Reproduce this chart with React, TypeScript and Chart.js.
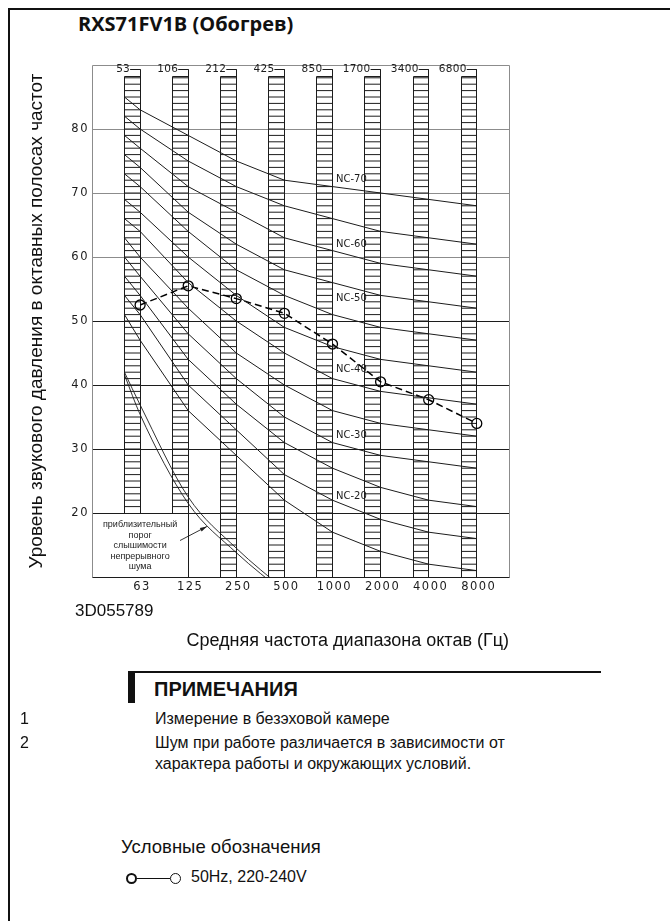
import React, { useEffect, useRef } from 'react';
import { Chart, registerables } from 'chart.js';

Chart.register(...registerables);

// Octave band centre frequencies (bottom axis) and lower band edges (top row)
const bandLabels = ['63', '125', '250', '500', '1000', '2000', '4000', '8000'];
const bandEdgeLabels = ['53', '106', '212', '425', '850', '1700', '3400', '6800'];
const levelTicks = [20, 30, 40, 50, 60, 70, 80];

// NC reference curves, dB: value at the lower edge of the 63 Hz column, then 63 … 8000 Hz
const nc70 = [85, 83, 79, 75, 72, 71, 70, 69, 68];
const nc65 = [82, 80, 75, 71, 68, 66, 64, 63, 62];
const nc60 = [79, 77, 71, 67, 63, 61, 59, 58, 57];
const nc55 = [76, 74, 67, 62, 58, 56, 54, 53, 52];
const nc50 = [73, 71, 64, 58, 54, 51, 49, 48, 47];
const nc45 = [69, 67, 60, 54, 49, 46, 44, 43, 42];
const nc40 = [66, 64, 56, 50, 45, 41, 39, 38, 37];
const nc35 = [63, 60, 52, 45, 40, 36, 34, 33, 32];
const nc30 = [60, 57, 48, 41, 35, 31, 29, 28, 27];
const nc25 = [57, 54, 44, 37, 31, 27, 24, 22, 21];
const nc20 = [54, 51, 40, 33, 26, 22, 19, 17, 16];
const nc15 = [51, 47, 36, 29, 22, 17, 14, 12, 11];
const ncCurves = [nc70, nc65, nc60, nc55, nc50, nc45, nc40, nc35, nc30, nc25, nc20, nc15];

// NC captions written beside the 1000 Hz column
const ncLabelNames = ['NC-70', 'NC-60', 'NC-50', 'NC-40', 'NC-30', 'NC-20'];
const ncLabelLevels = [72.2, 62.0, 53.6, 42.5, 32.2, 22.6];

// Measured octave band levels, heating mode, 50Hz 220-240V
const heatingLevels = [52.5, 55.5, 53.5, 51.2, 46.4, 40.5, 37.7, 34.0];

// Approximate threshold of hearing for continuous noise (double line):
// lower edge of the 63 Hz column, then 63, 125, 250, 500 Hz
const thresholdLower = [41.6, 35.4, 21.5, 13.8, 7.5];
const thresholdUpper = [42.0, 36.9, 22.5, 14.5, 8.0];
const thresholdText = ['приблизительный', 'порог', 'слышимости', 'непрерывного', 'шума'];

// Drawing geometry (octave units on x, dB on y)
const X_MIN = -1;
const X_MAX = 7.67;
const Y_MIN = 10;
const Y_MAX = 90;
const COL_W = 0.325;
const COL_TOP = 88.2;
const EDGE_ROW = 89.35;
const LABEL_BOX_TOP = 20;
const ARROW_TAIL = { x: 0.83, y: 15.7 };
const ARROW_HEAD = { x: 1.39, y: 17.9 };

const CAD_FONT = '"DejaVu Sans", sans-serif';
const TEXT_FONT = '"Liberation Sans", Arial, sans-serif';
const INK = '#1c1c1c';
const GREY = '#8c8c8c';

// x position of the j-th value of a curve that starts at the 63 Hz column edge
const curveX = (j: number) => (j === 0 ? -COL_W : j - 1);

const crisp = (v: number) => Math.round(v - 0.5) + 0.5;

const decorPlugin = {
  id: 'ncDecor',
  beforeDatasetsDraw(chart: any) {
    const { ctx, scales } = chart;
    const x = scales.x;
    const y = scales.y;
    ctx.save();
    ctx.strokeStyle = INK;
    ctx.lineWidth = 1;
    ctx.beginPath();
    bandLabels.forEach((_, i) => {
      const xl = crisp(x.getPixelForValue(i - COL_W));
      const xr = crisp(x.getPixelForValue(i));
      const bottom = i < 2 ? LABEL_BOX_TOP : Y_MIN;
      const yTop = y.getPixelForValue(COL_TOP);
      const yBot = y.getPixelForValue(bottom);
      ctx.moveTo(xl, yTop);
      ctx.lineTo(xl, yBot);
      ctx.moveTo(xr, y.getPixelForValue(EDGE_ROW));
      // the 125 Hz edge also closes the threshold caption box
      ctx.lineTo(xr, y.getPixelForValue(i === 1 ? Y_MIN : bottom));
      ctx.moveTo(xl, yTop);
      ctx.lineTo(xr, yTop);
      for (let d = Math.floor(COL_TOP); d > bottom; d--) {
        const yy = y.getPixelForValue(d);
        ctx.moveTo(xl, yy);
        ctx.lineTo(xr, yy);
      }
    });
    ctx.stroke();
    ctx.restore();
  },
  afterDatasetsDraw(chart: any) {
    const { ctx, chartArea: ca, scales } = chart;
    const x = scales.x;
    const y = scales.y;
    ctx.save();

    // plot frame
    const L = crisp(ca.left);
    const R = crisp(ca.right);
    const T = crisp(ca.top);
    const B = crisp(ca.bottom);
    ctx.lineWidth = 1;
    ctx.strokeStyle = GREY;
    ctx.beginPath();
    ctx.moveTo(L, B);
    ctx.lineTo(L, T);
    ctx.lineTo(R, T);
    ctx.lineTo(R, B);
    ctx.stroke();
    ctx.strokeStyle = INK;
    ctx.beginPath();
    ctx.moveTo(L, B);
    ctx.lineTo(R, B);
    ctx.stroke();

    // band edge labels with their leader to the column
    ctx.fillStyle = INK;
    ctx.font = `10.5px ${CAD_FONT}`;
    (ctx as any).letterSpacing = '0.3px';
    ctx.textAlign = 'right';
    ctx.textBaseline = 'middle';
    const yEdge = y.getPixelForValue(EDGE_ROW);
    bandEdgeLabels.forEach((t, i) => {
      const xr = x.getPixelForValue(i);
      ctx.fillText(t, xr - 10, yEdge);
      ctx.beginPath();
      ctx.moveTo(xr - 10, crisp(yEdge));
      ctx.lineTo(xr, crisp(yEdge));
      ctx.stroke();
    });

    // NC captions
    ctx.font = `10px ${CAD_FONT}`;
    (ctx as any).letterSpacing = '0px';
    ctx.textAlign = 'left';
    ncLabelNames.forEach((t, k) => {
      ctx.fillText(t, x.getPixelForValue(4) + 3.5, y.getPixelForValue(ncLabelLevels[k]));
    });

    // threshold caption
    ctx.font = `9px ${TEXT_FONT}`;
    ctx.textAlign = 'center';
    const cx = x.getPixelForValue(0);
    const y0 = y.getPixelForValue(LABEL_BOX_TOP) + 12;
    thresholdText.forEach((t, k) => {
      ctx.fillText(t, cx, y0 + k * 10.4);
    });

    // arrow pointing at the threshold curve
    const ax0 = x.getPixelForValue(ARROW_TAIL.x);
    const ay0 = y.getPixelForValue(ARROW_TAIL.y);
    const ax1 = x.getPixelForValue(ARROW_HEAD.x);
    const ay1 = y.getPixelForValue(ARROW_HEAD.y);
    const ang = Math.atan2(ay1 - ay0, ax1 - ax0);
    ctx.lineWidth = 0.9;
    ctx.beginPath();
    ctx.moveTo(ax0, ay0);
    ctx.lineTo(ax1, ay1);
    ctx.stroke();
    ctx.beginPath();
    ctx.moveTo(ax1, ay1);
    ctx.lineTo(ax1 - 7 * Math.cos(ang) + 2 * Math.sin(ang), ay1 - 7 * Math.sin(ang) - 2 * Math.cos(ang));
    ctx.lineTo(ax1 - 7 * Math.cos(ang) - 2 * Math.sin(ang), ay1 - 7 * Math.sin(ang) + 2 * Math.cos(ang));
    ctx.closePath();
    ctx.fill();

    ctx.restore();
    // tick labels are drawn after this hook (ticks.z = 1): spaced drafting digits
    (ctx as any).letterSpacing = '1.5px';
  },
  afterDraw(chart: any) {
    (chart.ctx as any).letterSpacing = '0px';
  },
};

function NoiseChart() {
  const ref = useRef<HTMLCanvasElement | null>(null);

  useEffect(() => {
    if (!ref.current) return;
    const ncSets = ncCurves.map((vals, k) => ({
      label: `NC-${70 - k * 5}`,
      data: vals.map((v, j) => ({ x: curveX(j), y: v })),
      borderColor: INK,
      borderWidth: 1,
      pointRadius: 0,
      tension: 0,
      fill: false,
    }));
    const thresholdSets = [thresholdLower, thresholdUpper].map((vals, k) => ({
      label: k === 0 ? 'threshold-a' : 'threshold-b',
      data: vals.map((v, j) => ({ x: curveX(j), y: v })),
      borderColor: INK,
      borderWidth: 0.9,
      pointRadius: 0,
      cubicInterpolationMode: 'monotone' as const,
      fill: false,
    }));
    const measured = {
      label: '50Hz, 220-240V',
      data: heatingLevels.map((v, i) => ({ x: i, y: v })),
      borderColor: '#000',
      borderWidth: 1.5,
      borderDash: [7, 4],
      pointRadius: 5,
      pointBorderWidth: 1.3,
      pointBorderColor: '#000',
      pointBackgroundColor: 'rgba(0,0,0,0)',
      tension: 0,
      fill: false,
    };

    const chart = new Chart(ref.current, {
      type: 'line',
      data: { datasets: [...ncSets, ...thresholdSets, measured] as any },
      options: {
        animation: false,
        responsive: false,
        devicePixelRatio: 1,
        events: [],
        layout: { padding: { top: 65, right: 51, bottom: 3, left: 0 } },
        plugins: { legend: { display: false }, tooltip: { enabled: false } },
        scales: {
          x: {
            type: 'linear',
            position: 'bottom',
            min: X_MIN,
            max: X_MAX,
            afterBuildTicks: (s: any) => {
              s.ticks = bandLabels.map((_, i) => ({ value: i }));
            },
            afterFit: (s: any) => {
              s.height = 80;
            },
            ticks: {
              callback: (_v: any, i: number) => bandLabels[i],
              font: { family: CAD_FONT, size: 11.5 },
              color: INK,
              padding: 3,
              labelOffset: 2,
              maxRotation: 0,
              autoSkip: false,
              z: 1,
            },
            grid: { display: false, drawTicks: false },
            border: { display: false },
            title: {
              display: true,
              text: 'Средняя частота диапазона октав (Гц)',
              align: 'end',
              color: '#111',
              font: { family: TEXT_FONT, size: 18 },
              padding: { top: 0, bottom: 5 },
            },
          },
          y: {
            type: 'linear',
            min: Y_MIN,
            max: Y_MAX,
            afterBuildTicks: (s: any) => {
              s.ticks = levelTicks.map((v) => ({ value: v }));
            },
            afterFit: (s: any) => {
              s.width = 92;
            },
            ticks: {
              font: { family: CAD_FONT, size: 11.5 },
              color: INK,
              padding: 3,
              z: 1,
            },
            grid: {
              drawTicks: false,
              lineWidth: 1,
              color: (c: any) => (c.tick && c.tick.value >= 60 ? GREY : INK),
            },
            border: { display: false },
            title: {
              display: true,
              text: 'Уровень звукового давления в октавных полосах частот',
              color: '#111',
              font: { family: TEXT_FONT, size: 19 },
              padding: { top: 25.5, bottom: 0 },
            },
          },
        },
      },
      plugins: [decorPlugin],
    });
    return () => chart.destroy();
  }, []);

  return <canvas ref={ref} width={560} height={660} style={{ position: 'absolute', left: 0, top: 0 }} />;
}

function Txt(props: { x: number; y: number; size: number; bold?: boolean; children: React.ReactNode }) {
  const { x, y, size, bold, children } = props;
  return (
    <div
      style={{
        position: 'absolute',
        left: x,
        top: y - size * 0.55,
        fontSize: size,
        lineHeight: `${size}px`,
        fontWeight: bold ? 700 : 400,
        whiteSpace: 'nowrap',
      }}
    >
      {children}
    </div>
  );
}

function LegendRing(props: { x: number; weight: number }) {
  return (
    <div
      style={{
        position: 'absolute',
        left: props.x,
        top: 872.5,
        width: 11,
        height: 11,
        borderRadius: '50%',
        border: `${props.weight}px solid #111`,
        boxSizing: 'border-box',
      }}
    />
  );
}

export default function App() {
  return (
    <div
      style={{
        position: 'absolute',
        left: 0,
        top: 0,
        width: 670,
        height: 921,
        overflow: 'hidden',
        background: '#fff',
        color: '#111',
        fontFamily: TEXT_FONT,
      }}
    >
      <div
        style={{
          position: 'absolute',
          left: 8,
          top: 8,
          width: 700,
          height: 950,
          borderLeft: '2px solid #111',
          borderTop: '2px solid #111',
        }}
      />
      <div
        style={{
          position: 'absolute',
          left: 78,
          top: 14,
          fontFamily: '"Open Sans", sans-serif',
          fontWeight: 700,
          fontSize: 20,
          lineHeight: '20px',
          whiteSpace: 'nowrap',
        }}
      >
        RXS71FV1B (Обогрев)
      </div>
      <NoiseChart />
      <Txt x={75} y={611} size={17}>3D055789</Txt>
      <div style={{ position: 'absolute', left: 128, top: 671, width: 473, height: 1.5, background: '#111' }} />
      <div style={{ position: 'absolute', left: 128, top: 671, width: 7, height: 32, background: '#111' }} />
      <Txt x={154} y={690} size={20} bold>ПРИМЕЧАНИЯ</Txt>
      <Txt x={20} y={720} size={16}>1</Txt>
      <Txt x={155} y={720} size={16}>Измерение в безэховой камере</Txt>
      <Txt x={20} y={744} size={16}>2</Txt>
      <Txt x={155} y={744} size={16}>Шум при работе различается в зависимости от</Txt>
      <Txt x={155} y={765} size={16}>характера работы и окружающих условий.</Txt>
      <Txt x={121} y={848} size={18.5}>Условные обозначения</Txt>
      <LegendRing x={126} weight={2} />
      <div style={{ position: 'absolute', left: 137, top: 877.5, width: 33, height: 1.3, background: '#111' }} />
      <LegendRing x={170} weight={1.5} />
      <Txt x={191} y={878} size={16}>50Hz, 220-240V</Txt>
    </div>
  );
}
